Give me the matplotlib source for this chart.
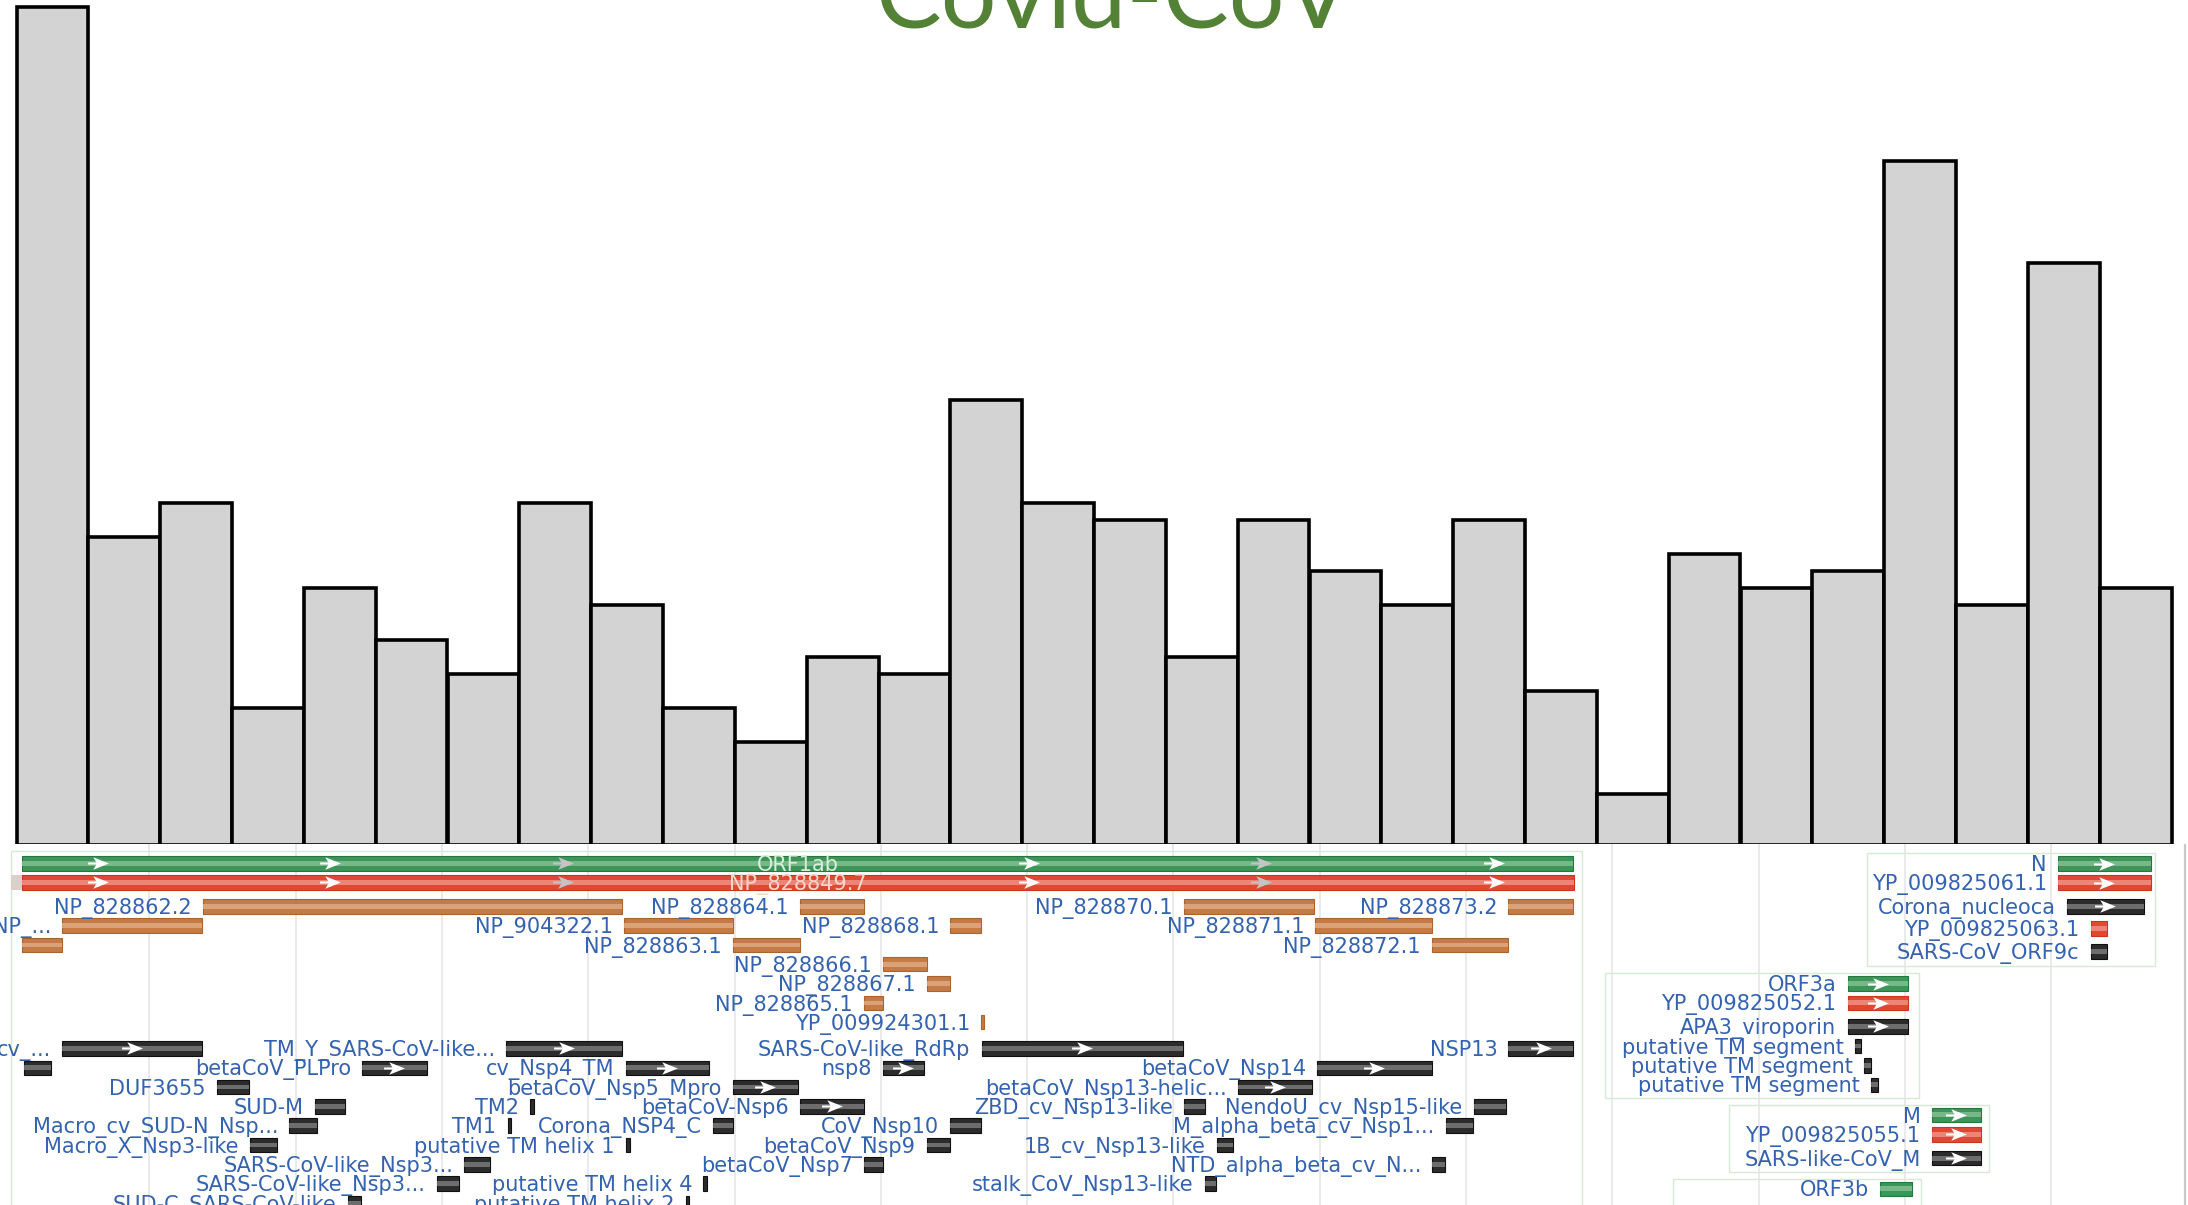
import matplotlib
matplotlib.use("Agg")
import matplotlib.pyplot as plt
from matplotlib.patches import Rectangle
from matplotlib.path import Path
import numpy as np

W, H = 2188, 1205
K = W / 1568.0  # track units -> pixels

# ------------------------------------------------------------------ data
title = "Covid-CoV"
bar_values = [49, 18, 20, 8, 15, 12, 10, 20, 14, 8, 6, 11, 10, 26, 20,
              19, 11, 19, 16, 14, 19, 9, 3, 17, 15, 16, 40, 14, 34, 15]

# polyprotein (gene + CDS) spanning ORF1ab
orf1ab_gene = ("ORF1ab", 16.0, 1127.6)
orf1ab_cds = ("NP_828849.7", 16.0, 1128.0)
orf1ab_lead = (8.0, 16.0)

# mature peptides (orange)
pep_label = ["NP_828862.2", "NP_828864.1", "NP_828870.1", "NP_828873.2",
             "NP_...", "NP_904322.1", "NP_828868.1", "NP_828871.1",
             "", "NP_828863.1", "NP_828872.1",
             "NP_828866.1", "NP_828867.1", "NP_828865.1", "YP_009924301.1"]
pep_start = [145.5, 573, 848.5, 1081, 44.6, 447, 681, 942.5, 16, 525, 1026, 632.5, 664, 619, 703]
pep_end = [446, 619, 942, 1127.5, 145, 525, 703, 1026, 44.6, 573.6, 1081, 664, 681, 632.5, 705]
pep_row = [0, 0, 0, 0, 1, 1, 1, 1, 2, 2, 2, 3, 4, 5, 6]

# conserved domains (dark)
dom_label = ["cv_...", "TM_Y_SARS-CoV-like...", "SARS-CoV-like_RdRp", "NSP13",
             "", "betaCoV_PLPro", "cv_Nsp4_TM", "nsp8", "betaCoV_Nsp14",
             "DUF3655", "betaCoV_Nsp5_Mpro", "betaCoV_Nsp13-helic...",
             "SUD-M", "TM2", "betaCoV-Nsp6", "ZBD_cv_Nsp13-like", "NendoU_cv_Nsp15-like",
             "Macro_cv_SUD-N_Nsp...", "TM1", "Corona_NSP4_C", "CoV_Nsp10", "M_alpha_beta_cv_Nsp1...",
             "Macro_X_Nsp3-like", "putative TM helix 1", "betaCoV_Nsp9", "1B_cv_Nsp13-like",
             "SARS-CoV-like_Nsp3...", "betaCoV_Nsp7", "NTD_alpha_beta_cv_N...",
             "SARS-CoV-like_Nsp3...", "putative TM helix 4", "stalk_CoV_Nsp13-like",
             "SUD-C_SARS-CoV-like", "putative TM helix 2"]
dom_start = [44.6, 362.7, 703.4, 1081,
             17.5, 259.6, 448.6, 632.5, 944,
             155.4, 525, 887,
             225.6, 380, 573, 848.5, 1056,
             207.3, 363.8, 510.8, 681, 1036,
             179, 448.6, 664, 872,
             332.7, 619, 1026.3,
             313, 504, 863.2,
             249.4, 491.7]
dom_end = [145, 446, 848, 1127.5,
           36.5, 305.7, 508, 662.4, 1026,
           178.4, 572, 940,
           247, 383, 619, 863.5, 1079,
           227, 366.3, 525.4, 703, 1055.5,
           198.5, 451.6, 681, 883.4,
           351, 632.5, 1035.4,
           329, 507, 871.5,
           258.8, 493.7]
dom_row = [0, 0, 0, 0, 1, 1, 1, 1, 1, 2, 2, 2, 3, 3, 3, 3, 3,
           4, 4, 4, 4, 4, 5, 5, 5, 5, 6, 6, 6, 7, 7, 7, 8, 8]

# structural / accessory genes at the right
side_label = ["N", "YP_009825061.1", "Corona_nucleoca", "YP_009825063.1", "SARS-CoV_ORF9c",
              "ORF3a", "YP_009825052.1", "APA3_viroporin",
              "putative TM segment", "putative TM segment", "putative TM segment",
              "M", "YP_009825055.1", "SARS-like-CoV_M", "ORF3b"]
side_kind = ["gene", "cds", "dom", "cds", "dom",
             "gene", "cds", "dom", "dom", "dom", "dom",
             "gene", "cds", "dom", "gene"]
side_start = [1474.7, 1474.7, 1481, 1498.3, 1498.3,
              1324, 1324, 1324, 1329.3, 1336, 1340.7,
              1384.3, 1384.3, 1384.3, 1347.6]
side_end = [1541.3, 1541.3, 1536.5, 1509.8, 1509.8,
            1367, 1367, 1367, 1333.8, 1340.7, 1345.6,
            1419.3, 1419.3, 1419.3, 1370.5]
side_y = [619, 632.5, 649.5, 665.5, 682,
          705, 718.7, 735.5, 749.6, 763.5, 777.4,
          799, 813, 830, 852]

# group boxes
box_x0 = [8, 1338, 1150, 1239, 1199]
box_x1 = [1134, 1544, 1375, 1425.5, 1377]
box_y0 = [610, 611.5, 697.5, 792, 845]
box_y1 = [880, 692.3, 786.7, 839.7, 880]

grid_x = [107 + 104.85 * k for k in range(14)]

# ------------------------------------------------------------------ styles
TEXT = "#3462ae"
FS = 15
STYLE = {
    "gene": dict(base="#3d9559", light="#86c296", rim="#24773d", h=10.5),
    "cds": dict(base="#de4a31", light="#f1958a", rim="#c9351f", h=10.5),
    "pep": dict(base="#c47b45", light="#e0ad86", rim="#a8642f", h=10.3),
    "dom": dict(base="#2c2c2c", light="#7e7e7e", rim="#101010", h=10.3),
}
ARROW = Path([(-1.0, 0.1), (-0.2, 0.1), (-0.5, 0.6), (1.0, 0.0),
              (-0.5, -0.6), (-0.2, -0.1), (-1.0, -0.1), (-1.0, 0.1)],
             [Path.MOVETO] + [Path.LINETO] * 6 + [Path.CLOSEPOLY])
ARROW_MS = 15

PEP_Y0, DOM_Y0, ROW_STEP = 649.5, 751.3, 13.85
cap_px = 0.729 * FS * 100 / 72.0
base_off = cap_px / 2 / K

fig = plt.figure(figsize=(W / 100, H / 100), dpi=100)
fig.patch.set_facecolor("white")

# ------------------------------------------------------------------ bar chart
px_zero, px_unit, ax_bottom_px = 845.0, 17.11, 860.0
v_lo = -(ax_bottom_px - px_zero) / px_unit
v_hi = px_zero / px_unit
bar_left_px, bar_right_px = 16.5, 2171.5
bw = (bar_right_px - bar_left_px) / len(bar_values)
pad = 0.05
axb = fig.add_axes([(bar_left_px - pad * bw) / W, 1 - ax_bottom_px / H,
                    (len(bar_values) + 2 * pad) * bw / W, ax_bottom_px / H], zorder=1)
xpos = np.arange(len(bar_values)) + 0.5
axb.bar(xpos, bar_values, width=1.0, color="#d3d3d3", edgecolor="black", linewidth=2.6)
axb.set_xlim(-pad, len(bar_values) + pad)
axb.set_ylim(v_lo, v_hi)
axb.axis("off")

# ------------------------------------------------------------------ annotation track
top_px = 843.5
axa = fig.add_axes([0, 0, 1, (H - top_px) / H], zorder=2)
axa.set_facecolor("white")
axa.set_xlim(0, W / K)
axa.set_ylim(H / K, top_px / K)
for s in axa.spines.values():
    s.set_visible(False)
axa.set_xticks([])
axa.set_yticks([])

for gx in grid_x:
    axa.axvline(gx, color="#e4e4e4", lw=1.1, zorder=0.5)
axa.axvline(1565.5, color="#c8c8c8", lw=1.6, zorder=0.6)

for x0, x1, y0, y1 in zip(box_x0, box_x1, box_y0, box_y1):
    axa.add_patch(Rectangle((x0, y0), x1 - x0, y1 - y0, facecolor="none",
                            edgecolor="#d6ead6", lw=1.0, zorder=1))


def draw_feature(x0, x1, yc, kind, label=None, arrow=True):
    st = STYLE[kind]
    h = st["h"]
    w = x1 - x0
    axa.add_patch(Rectangle((x0, yc - h / 2), w, h, facecolor=st["base"],
                            edgecolor=st["rim"], linewidth=0.8, zorder=3))
    if w > 3:
        axa.add_patch(Rectangle((x0, yc - h * 0.17), w, h * 0.34,
                                facecolor=st["light"], edgecolor="none", alpha=0.8, zorder=3.1))
    if arrow and kind != "pep" and w >= 28:
        axa.plot([(x0 + x1) / 2], [yc], marker=ARROW, ms=ARROW_MS, color="white",
                 mec="none", zorder=4, linestyle="none")
    if label:
        axa.text(x0 - 8, yc + base_off, label, ha="right", va="baseline",
                 fontsize=FS, color=TEXT, zorder=4)


# ORF1ab gene & CDS with inner labels and repeated arrows
for (name, x0, x1), kind, yc, tcol in [(orf1ab_gene, "gene", 618.8, "#d9eedb"),
                                        (orf1ab_cds, "cds", 632.3, "#f7d6ce")]:
    draw_feature(x0, x1, yc, kind, arrow=False)
    mid = (x0 + x1) / 2
    axa.text(mid, yc + base_off, name, ha="center", va="baseline", fontsize=FS,
             color=tcol, zorder=4.5)
    ax_arrows = np.arange(x0 + 54, x1, 166.8)
    for k, ap in enumerate(ax_arrows):
        if abs(ap - mid) < 45:
            continue
        col = "#c4c4c4" if k in (2, 5) else "white"
        axa.plot([ap], [yc], marker=ARROW, ms=ARROW_MS, color=col, mec="none", zorder=4)
axa.add_patch(Rectangle((orf1ab_lead[0], 632.3 - 5.25), orf1ab_lead[1] - orf1ab_lead[0], 10.5,
                        facecolor="#d9d1c9", edgecolor="none", zorder=3))

for lab, s, e, r in zip(pep_label, pep_start, pep_end, pep_row):
    draw_feature(s, e, PEP_Y0 + ROW_STEP * r, "pep", lab)

for lab, s, e, r in zip(dom_label, dom_start, dom_end, dom_row):
    draw_feature(s, e, DOM_Y0 + ROW_STEP * r, "dom", lab)

for lab, k, s, e, y in zip(side_label, side_kind, side_start, side_end, side_y):
    draw_feature(s, e, y, k, lab)

# ------------------------------------------------------------------ title
t = fig.text(1113 / W, 1 - 27 / H, title, ha="center", va="baseline",
             color="#538135", fontsize=72, family=["Lato", "DejaVu Sans"], zorder=10)
r = fig.canvas.get_renderer()
bb = t.get_window_extent(r)
t.set_fontsize(72 * 476.0 / bb.width)

fig.savefig("out.png", dpi=100, facecolor="white")
